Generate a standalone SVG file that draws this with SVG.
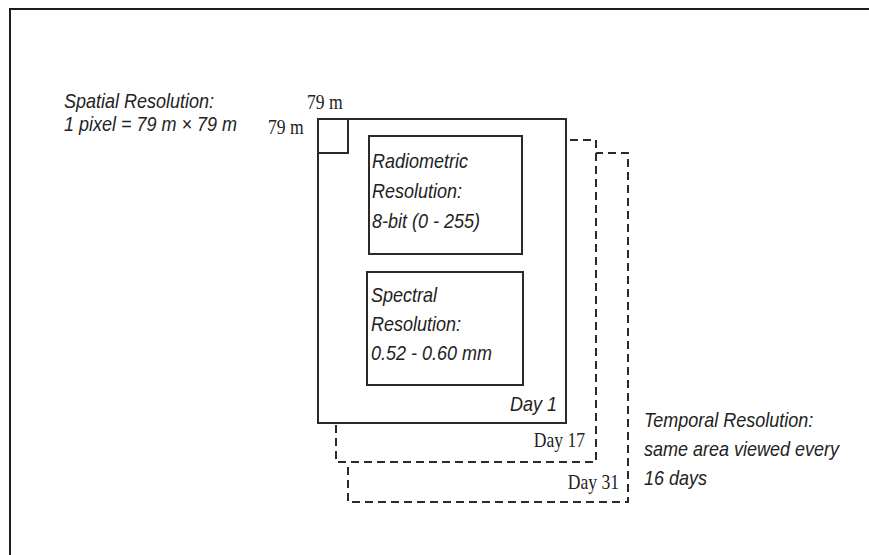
<svg xmlns="http://www.w3.org/2000/svg" width="869" height="555" viewBox="0 0 869 555">
<defs>
<style>
.frame{fill:none;stroke:#1e1e1e;stroke-width:2}
.solid{fill:#fff;stroke:#2a2a2a;stroke-width:2}
.dash{fill:#fff;stroke:#2a2a2a;stroke-width:2;stroke-dasharray:8 5}
.lab{font-family:"Liberation Sans",Arial,sans-serif;font-style:italic;font-size:20px;fill:#222}
.ser{font-family:"Liberation Serif","Times New Roman",serif;font-size:20px;fill:#222}
</style>
</defs>
<rect x="0" y="0" width="869" height="555" fill="#fff"/>
<rect class="frame" x="10" y="9" width="880" height="570"/>

<g id="day31">
<rect class="dash" x="348" y="153" width="280" height="349"/>
<text class="ser" transform="translate(619 489) scale(0.88 1)" text-anchor="end">Day 31</text>
</g>
<g id="day17">
<rect class="dash" x="336" y="140" width="260" height="322"/>
<text class="ser" transform="translate(585 447) scale(0.88 1)" text-anchor="end">Day 17</text>
</g>
<g id="day1">
<rect class="solid" x="318" y="119" width="248" height="304"/>
<text class="lab" transform="translate(557 411) scale(0.9 1)" text-anchor="end">Day 1</text>
</g>
<g id="pixel">
<rect class="solid" x="318" y="119" width="30" height="34"/>
<text class="ser" transform="translate(307 109) scale(0.88 1)">79 m</text>
<text class="ser" transform="translate(268 134) scale(0.88 1)">79 m</text>
</g>
<g id="radiometric">
<rect class="solid" x="369" y="136" width="153" height="118"/>
<text class="lab" transform="translate(372 168) scale(0.9 1)">Radiometric</text>
<text class="lab" transform="translate(372 198) scale(0.9 1)">Resolution:</text>
<text class="lab" transform="translate(372 228) scale(0.9 1)">8-bit (0 - 255)</text>
</g>
<g id="spectral">
<rect class="solid" x="367" y="272" width="156" height="113"/>
<text class="lab" transform="translate(371 302) scale(0.9 1)">Spectral</text>
<text class="lab" transform="translate(371 331) scale(0.9 1)">Resolution:</text>
<text class="lab" transform="translate(371 360) scale(0.9 1)">0.52 - 0.60 mm</text>
</g>
<g id="spatial">
<text class="lab" transform="translate(64 108) scale(0.9 1)">Spatial Resolution:</text>
<text class="lab" transform="translate(64 131) scale(0.9 1)">1 pixel = 79 m × 79 m</text>
</g>
<g id="temporal">
<text class="lab" transform="translate(644 427) scale(0.9 1)">Temporal Resolution:</text>
<text class="lab" transform="translate(644 456) scale(0.9 1)">same area viewed every</text>
<text class="lab" transform="translate(644 485) scale(0.9 1)">16 days</text>
</g>
<g id="connectors"></g>
</svg>
